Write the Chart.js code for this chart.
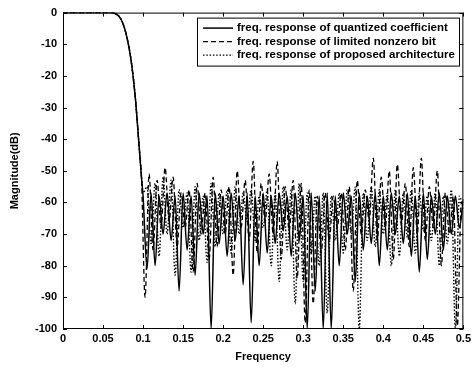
<!DOCTYPE html>
<html>
<head>
<meta charset="utf-8">
<script src="https://cdn.jsdelivr.net/npm/chart.js@4.4.1/dist/chart.umd.min.js"></script>
<style>
html, body { margin: 0; padding: 0; background: #fff; }
canvas { display: block; }
</style>
</head>
<body>
<canvas id="myChart" width="474" height="369" style="width:474px;height:369px"></canvas>
<script>
// passband + transition, common to all three responses
const pass_freq = [0, 0.02, 0.04, 0.06, 0.065, 0.07, 0.075, 0.08, 0.085, 0.09, 0.095, 0.098];
const pass_mag  = [0, 0, 0, 0, -0.3, -1.2, -3.5, -8, -15, -26, -42, -52];

// stopband grid for quantized coefficient and proposed architecture
const stop_freq = [0.100, 0.105, 0.110, 0.115, 0.120, 0.125, 0.130, 0.135, 0.140, 0.145,
                   0.150, 0.155, 0.160, 0.165, 0.170, 0.175, 0.180, 0.185, 0.190, 0.195,
                   0.200, 0.205, 0.210, 0.215, 0.220, 0.225, 0.230, 0.235, 0.240, 0.245,
                   0.250, 0.255, 0.260, 0.265, 0.270, 0.275, 0.280, 0.285, 0.290, 0.295,
                   0.300, 0.305, 0.310, 0.315, 0.320, 0.325, 0.330, 0.335, 0.340, 0.345,
                   0.350, 0.355, 0.360, 0.365, 0.370, 0.375, 0.380, 0.385, 0.390, 0.395,
                   0.400, 0.405, 0.410, 0.415, 0.420, 0.425, 0.430, 0.435, 0.440, 0.445,
                   0.450, 0.455, 0.460, 0.465, 0.470, 0.475, 0.480, 0.485, 0.490, 0.495, 0.500];

const quant_mag = [-58, -81, -57, -80, -58, -70, -57, -72, -58, -88,
                   -57, -75, -58, -83, -57, -70, -58, -100, -57, -73,
                   -58, -77, -57, -72, -58, -86, -57, -98, -58, -80,
                   -57, -76, -58, -73, -57, -69, -58, -77, -57, -72,
                   -58, -100, -57, -88, -58, -100, -57, -100, -58, -80,
                   -57, -70, -58, -85, -57, -75, -58, -73, -57, -80,
                   -58, -75, -57, -70, -58, -73, -57, -77, -58, -82,
                   -57, -78, -58, -70, -57, -75, -58, -70, -58, -68, -59];

const prop_mag = [-57, -55, -73, -54, -77, -52, -70, -53, -83, -56,
                  -68, -57, -82, -55, -72, -58, -79, -54, -74, -57,
                  -70, -56, -76, -55, -70, -57, -66, -56, -72, -58,
                  -68, -56, -80, -57, -85, -55, -75, -56, -92, -54,
                  -85, -57, -76, -58, -80, -57, -95, -58, -72, -57,
                  -76, -56, -70, -55, -100, -57, -72, -55, -74, -56,
                  -70, -57, -80, -56, -77, -57, -71, -56, -76, -57,
                  -69, -58, -72, -57, -80, -58, -73, -56, -100, -58, -62];

// stopband grid for limited nonzero bit
const limit_freq = [0.1025, 0.1075, 0.1125, 0.1175, 0.1225, 0.1275, 0.1325, 0.1375, 0.1425, 0.1475,
                    0.1525, 0.1575, 0.1625, 0.1675, 0.1725, 0.1775, 0.1825, 0.1875, 0.1925, 0.1975,
                    0.2025, 0.2075, 0.2125, 0.2175, 0.2225, 0.2275, 0.2325, 0.2375, 0.2425, 0.2475,
                    0.2525, 0.2575, 0.2625, 0.2675, 0.2725, 0.2775, 0.2825, 0.2875, 0.2925, 0.2975,
                    0.3025, 0.3075, 0.3125, 0.3175, 0.3225, 0.3275, 0.3325, 0.3375, 0.3425, 0.3475,
                    0.3525, 0.3575, 0.3625, 0.3675, 0.3725, 0.3775, 0.3825, 0.3875, 0.3925, 0.3975,
                    0.4025, 0.4075, 0.4125, 0.4175, 0.4225, 0.4275, 0.4325, 0.4375, 0.4425, 0.4475,
                    0.4525, 0.4575, 0.4625, 0.4675, 0.4725, 0.4775, 0.4825, 0.4875, 0.4925, 0.4975, 0.5];

const limit_mag = [-90, -51, -75, -53, -68, -49, -66, -52, -74, -57,
                   -68, -56, -82, -54, -70, -57, -78, -52, -74, -56,
                   -70, -55, -83, -50, -68, -53, -72, -47, -76, -54,
                   -66, -51, -70, -47, -78, -55, -69, -53, -84, -54,
                   -98, -56, -92, -58, -76, -57, -72, -58, -68, -57,
                   -75, -55, -88, -53, -70, -56, -66, -46, -72, -52,
                   -68, -50, -78, -48, -67, -54, -74, -49, -70, -46,
                   -72, -55, -68, -50, -80, -57, -70, -58, -99, -60, -61];

const x_ticks = [0, 0.05, 0.1, 0.15, 0.2, 0.25, 0.3, 0.35, 0.4, 0.45, 0.5];
const y_ticks = [0, -10, -20, -30, -40, -50, -60, -70, -80, -90, -100];

const series_labels = ['freq. response of quantized coefficient',
                       'freq. response of limited nonzero bit',
                       'freq. response of proposed architecture'];

function pairs(fs, ms) {
    return fs.map(function (f, i) { return {x: f, y: ms[i]}; });
}

const txtFont = {family: 'Liberation Sans, Arial, sans-serif', size: 11, weight: 'bold'};

// MATLAB style box, inward ticks and boxed legend
const frameAndLegend = {
    id: 'frameAndLegend',
    afterDatasetsDraw(chart) {
        const ctx = chart.ctx;
        const a = chart.chartArea;
        const xs = chart.scales.x, ys = chart.scales.y;
        ctx.save();
        ctx.strokeStyle = '#000';
        ctx.lineWidth = 1;
        ctx.setLineDash([]);
        ctx.strokeRect(a.left + 0.5, a.top + 0.5, a.right - a.left - 1, a.bottom - a.top - 1);
        ctx.beginPath();
        x_ticks.forEach(function (v) {
            const px = Math.round(xs.getPixelForValue(v)) + 0.5;
            ctx.moveTo(px, a.bottom); ctx.lineTo(px, a.bottom - 4);
            ctx.moveTo(px, a.top); ctx.lineTo(px, a.top + 4);
        });
        y_ticks.forEach(function (v) {
            const py = Math.round(ys.getPixelForValue(v)) + 0.5;
            ctx.moveTo(a.left, py); ctx.lineTo(a.left + 4, py);
            ctx.moveTo(a.right, py); ctx.lineTo(a.right - 4, py);
        });
        ctx.stroke();

        // legend
        ctx.font = 'bold 11.5px "Liberation Sans", Arial, sans-serif';
        let tw = 0;
        chart.data.datasets.forEach(function (ds) { tw = Math.max(tw, ctx.measureText(ds.label).width); });
        const bw = Math.round(tw + 44), bh = 48;
        const bx = Math.round(a.right - 4 - bw), by = a.top + 5;
        ctx.fillStyle = '#fff';
        ctx.fillRect(bx, by, bw, bh);
        ctx.strokeRect(bx + 0.5, by + 0.5, bw, bh);
        ctx.textBaseline = 'middle';
        ctx.textAlign = 'left';
        chart.data.datasets.forEach(function (ds, i) {
            const ry = by + 10.5 + i * 13.5;
            ctx.beginPath();
            ctx.lineWidth = ds.borderWidth;
            ctx.setLineDash(ds.borderDash || []);
            ctx.moveTo(bx + 6, ry);
            ctx.lineTo(bx + 36, ry);
            ctx.stroke();
            ctx.setLineDash([]);
            ctx.fillStyle = '#000';
            ctx.fillText(ds.label, bx + 40, ry);
        });
        ctx.restore();
    }
};

const config = {
    type: 'line',
    data: {
        datasets: [{
            label: series_labels[0],
            data: pairs(pass_freq.concat(stop_freq), pass_mag.concat(quant_mag)),
            borderColor: '#000',
            borderWidth: 1.5,
            pointRadius: 0,
            cubicInterpolationMode: 'monotone'
        }, {
            label: series_labels[1],
            data: pairs(pass_freq.concat(limit_freq), pass_mag.concat(limit_mag)),
            borderColor: '#000',
            borderWidth: 1.3,
            borderDash: [5, 3],
            pointRadius: 0,
            cubicInterpolationMode: 'monotone'
        }, {
            label: series_labels[2],
            data: pairs(pass_freq.concat(stop_freq), pass_mag.concat(prop_mag)),
            borderColor: '#000',
            borderWidth: 1.4,
            borderDash: [1.5, 1.8],
            pointRadius: 0,
            cubicInterpolationMode: 'monotone'
        }]
    },
    options: {
        responsive: false,
        animation: false,
        layout: {padding: {top: 10, right: 7, left: 0, bottom: 0}},
        scales: {
            x: {
                type: 'linear',
                min: 0, max: 0.5,
                grid: {display: false, drawTicks: false},
                border: {display: false},
                afterBuildTicks: function (s) { s.ticks = x_ticks.map(function (v) { return {value: v}; }); },
                afterFit: function (s) { s.height = 40; },
                ticks: {
                    color: '#000', font: txtFont, padding: 3, maxRotation: 0,
                    callback: function (v) { return String(v); }
                },
                title: {display: true, text: 'Frequency', color: '#000', font: txtFont, padding: {top: 0, bottom: 5}}
            },
            y: {
                min: -100, max: 0,
                grid: {display: false, drawTicks: false},
                border: {display: false},
                afterBuildTicks: function (s) { s.ticks = y_ticks.map(function (v) { return {value: v}; }); },
                afterFit: function (s) { s.width = 63; },
                ticks: {color: '#000', font: txtFont, padding: 6},
                title: {display: true, text: 'Magnitude(dB)', color: '#000', font: txtFont, padding: {top: 8, bottom: 0}}
            }
        },
        plugins: {
            legend: {display: false},
            tooltip: {enabled: false}
        }
    },
    plugins: [frameAndLegend]
};

const myChart = new Chart(document.getElementById('myChart'), config);
</script>
</body>
</html>
